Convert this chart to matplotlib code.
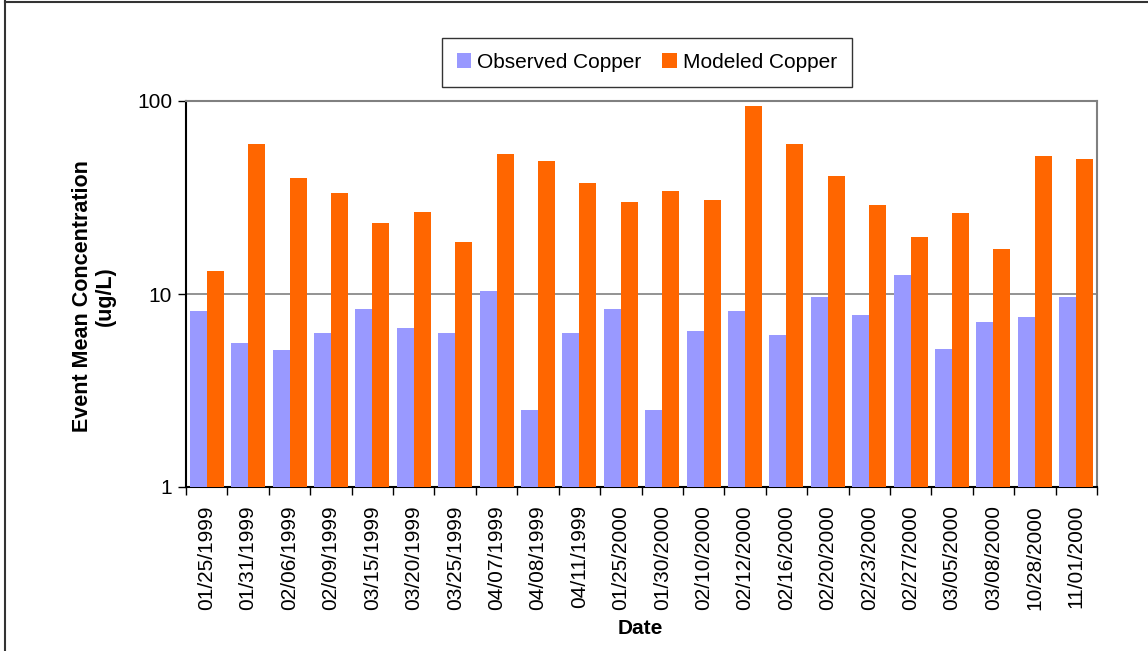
import matplotlib
matplotlib.use("Agg")
import matplotlib.pyplot as plt
import numpy as np
from matplotlib.lines import Line2D
from matplotlib.ticker import FixedLocator, FixedFormatter, NullLocator

plt.rcParams['font.family'] = ['Liberation Sans', 'DejaVu Sans']

dates = ["01/25/1999", "01/31/1999", "02/06/1999", "02/09/1999", "03/15/1999",
         "03/20/1999", "03/25/1999", "04/07/1999", "04/08/1999", "04/11/1999",
         "01/25/2000", "01/30/2000", "02/10/2000", "02/12/2000", "02/16/2000",
         "02/20/2000", "02/23/2000", "02/27/2000", "03/05/2000", "03/08/2000",
         "10/28/2000", "11/01/2000"]
observed = [8.2, 5.6, 5.1, 6.3, 8.4, 6.7, 6.3, 10.4, 2.5, 6.3, 8.4,
            2.5, 6.4, 8.2, 6.1, 9.7, 7.8, 12.6, 5.2, 7.2, 7.6, 9.7]
modeled = [13.1, 60.1, 40.1, 33.2, 23.2, 26.7, 18.7, 53.4, 48.6, 37.4, 30.1,
           34.1, 30.8, 94.7, 60.1, 41.1, 28.8, 19.7, 26.2, 17.1, 52.1, 49.8]
series_names = ["Observed Copper", "Modeled Copper"]
y_ticks = [1, 10, 100]
y_tick_labels = ["1", "10", "100"]

W, H = 1148, 651
fig = plt.figure(figsize=(W / 100, H / 100), dpi=100)
fig.patch.set_facecolor("white")

left, right, top, bottom = 186, 1097, 101, 487
ax = fig.add_axes([left / W, 1 - bottom / H, (right - left) / W, (bottom - top) / H])

x = np.arange(len(dates))
bw = 0.41
ax.bar(x - bw / 2, observed, width=bw, color="#9999FF", label=series_names[0], zorder=3)
ax.bar(x + bw / 2, modeled, width=bw, color="#FF6600", label=series_names[1], zorder=3)

ax.set_yscale("log")
ax.set_ylim(1, 100)
ax.set_xlim(-0.5, len(dates) - 0.5)

ax.yaxis.set_major_locator(FixedLocator(y_ticks))
ax.yaxis.set_major_formatter(FixedFormatter(y_tick_labels))
ax.yaxis.set_minor_locator(NullLocator())
ax.tick_params(axis="y", which="major", direction="out", length=6, width=1,
               labelsize=15, pad=4, colors="black")

ax.set_xticks(x)
ax.set_xticklabels(dates, rotation=90, fontsize=15)
ax.set_xticks(np.arange(-0.5, len(dates), 1.0), minor=True)
ax.tick_params(axis="x", which="major", length=0, pad=13)
ax.tick_params(axis="x", which="minor", direction="out", length=6, width=1, color="black")

ax.axhline(10, color="#808080", lw=1.2, zorder=2)

for s in ["top", "right"]:
    ax.spines[s].set_color("#808080")
    ax.spines[s].set_linewidth(1.5)
ax.spines["left"].set_color("black")
ax.spines["bottom"].set_color("black")
ax.spines["left"].set_linewidth(1.5)
ax.spines["bottom"].set_linewidth(1.5)

fig.text(94 / W, 1 - 296 / H, "Event Mean Concentration\n(ug/L)", rotation=90,
         ha="center", va="center", ma="center", fontsize=15.5, fontweight="bold",
         linespacing=1.15)
fig.text(640 / W, 1 - 629 / H, "Date", ha="center", va="center", fontsize=15,
         fontweight="bold")

leg = fig.legend(loc="center", bbox_to_anchor=(647 / W, 1 - 62.5 / H), ncol=2,
                 fontsize=15, frameon=True, fancybox=False, edgecolor="black",
                 handlelength=0.7, handleheight=0.7, handletextpad=0.3,
                 columnspacing=1.0, borderpad=0.7)
leg.get_frame().set_linewidth(1.0)

fig.add_artist(Line2D([5 / W, 5 / W], [0, 1 - 1 / H], transform=fig.transFigure,
                      color="#333333", lw=1.5))
fig.add_artist(Line2D([5 / W, 1], [1 - 1.5 / H, 1 - 1.5 / H], transform=fig.transFigure,
                      color="#333333", lw=1.5))

fig.savefig("out.png", dpi=100, facecolor="white")
